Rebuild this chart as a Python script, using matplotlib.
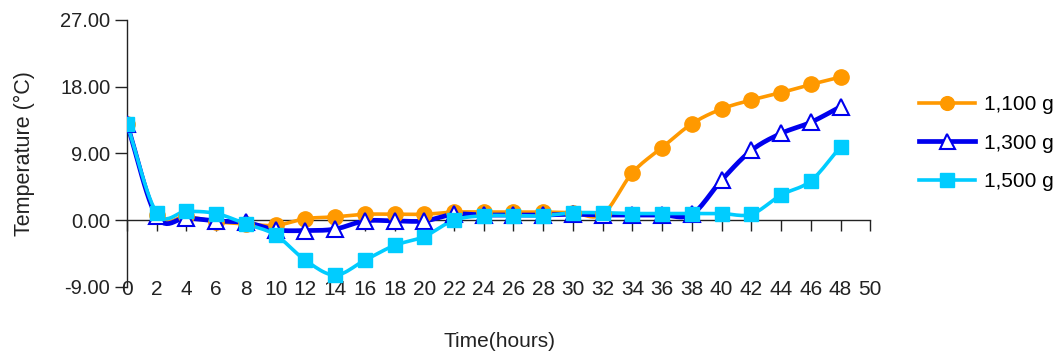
import matplotlib
matplotlib.use("Agg")
import matplotlib.pyplot as plt
from matplotlib.lines import Line2D
import numpy as np

plt.rcParams['font.family'] = ['Liberation Sans', 'DejaVu Sans']

hours = list(range(0, 50, 2))

# temperature readings per loaf weight, degrees C
temp_1100 = [13.0, 0.7, 0.5, -0.2, -0.5, -0.7, 0.2, 0.45, 0.8, 0.8, 0.8, 1.1, 1.1,
             1.1, 1.1, 1.0, 0.8, 6.4, 9.8, 13.0, 15.0, 16.2, 17.2, 18.3, 19.3]
temp_1300 = [13.0, 0.5, 0.3, -0.1, -0.3, -1.3, -1.4, -1.2, -0.1, -0.1, -0.1, 0.8, 0.7,
             0.7, 0.7, 0.8, 0.7, 0.7, 0.7, 0.8, 5.4, 9.4, 11.7, 13.2, 15.3]
temp_1500 = [13.0, 1.0, 1.2, 0.9, -0.5, -2.0, -5.4, -7.4, -5.4, -3.4, -2.2, 0.0, 0.6,
             0.6, 0.6, 1.0, 1.0, 0.9, 0.9, 0.9, 0.9, 0.8, 3.4, 5.3, 9.9]

labels = ['1,100 g', '1,300 g', '1,500 g']
colors = ['#ff9900', '#0000ee', '#00ccff']
ink = '#222222'


def smooth(x, y, n=12):
    # Catmull-Rom curve through the points (like a spreadsheet "smoothed line")
    x = np.asarray(x, float)
    y = np.asarray(y, float)
    px = np.concatenate([[2 * x[0] - x[1]], x, [2 * x[-1] - x[-2]]])
    py = np.concatenate([[2 * y[0] - y[1]], y, [2 * y[-1] - y[-2]]])
    t = np.linspace(0, 1, n, endpoint=False)
    xs, ys = [], []
    for i in range(1, len(px) - 2):
        for p, out in ((px, xs), (py, ys)):
            p0, p1, p2, p3 = p[i - 1], p[i], p[i + 1], p[i + 2]
            out.append(0.5 * (2 * p1 + (-p0 + p2) * t
                              + (2 * p0 - 5 * p1 + 4 * p2 - p3) * t ** 2
                              + (-p0 + 3 * p1 - 3 * p2 + p3) * t ** 3))
    xs.append([x[-1]])
    ys.append([y[-1]])
    return np.concatenate(xs), np.concatenate(ys)


fig = plt.figure(figsize=(10.6, 3.56), dpi=100)
ax = fig.add_axes([0.1198, 0.194, 0.7012, 0.750])

series = [temp_1100, temp_1300, temp_1500]
styles = [dict(marker='o', mfc=colors[0], mec=colors[0], ms=11, lw=2.6),
          dict(marker='^', mfc='white', mec=colors[1], mew=1.5, ms=12, lw=3.4),
          dict(marker='s', mfc=colors[2], mec=colors[2], ms=10.5, lw=2.6)]

handles = []
for vals, c, st, lab in zip(series, colors, styles, labels):
    sx, sy = smooth(hours, vals)
    ax.plot(sx, sy, color=c, lw=st['lw'], zorder=3)
    ax.plot(hours, vals, ls='none', marker=st['marker'], ms=st['ms'],
            mfc=st['mfc'], mec=st['mec'], mew=st.get('mew', 1), zorder=4)
    handles.append(Line2D([], [], color=c, lw=st['lw'], marker=st['marker'],
                          ms=st['ms'] * 0.9, mfc=st['mfc'], mec=st['mec'],
                          mew=st.get('mew', 1), label=lab))

ax.set_xlim(0, 50)
ax.set_ylim(-9, 27)
ax.set_yticks([-9, 0, 9, 18, 27])
ax.set_yticklabels(['%.2f' % v for v in [-9, 0, 9, 18, 27]])
ax.set_xticks(range(0, 51, 2))

for s in ['top', 'right']:
    ax.spines[s].set_visible(False)
ax.spines['bottom'].set_position(('data', 0))
for s in ['left', 'bottom']:
    ax.spines[s].set_color(ink)
    ax.spines[s].set_linewidth(1.0)

ax.tick_params(axis='y', direction='out', length=9, width=1, color=ink,
               labelsize=14.5, pad=3, labelcolor=ink)
ax.tick_params(axis='x', direction='out', length=8, width=1, color=ink,
               labelsize=15, pad=35, labelcolor=ink)

ax.set_ylabel('Temperature (°C)', fontsize=15.5, color=ink, labelpad=18)
fig.text(0.471, 0.025, 'Time(hours)', fontsize=15, color=ink, ha='center')

fig.legend(handles=handles, loc='center left', bbox_to_anchor=(0.867, 0.598),
           frameon=False, fontsize=15, handlelength=2.7, labelspacing=0.95,
           handletextpad=0.4, borderaxespad=0, borderpad=0)

fig.savefig('out.png', dpi=100)
